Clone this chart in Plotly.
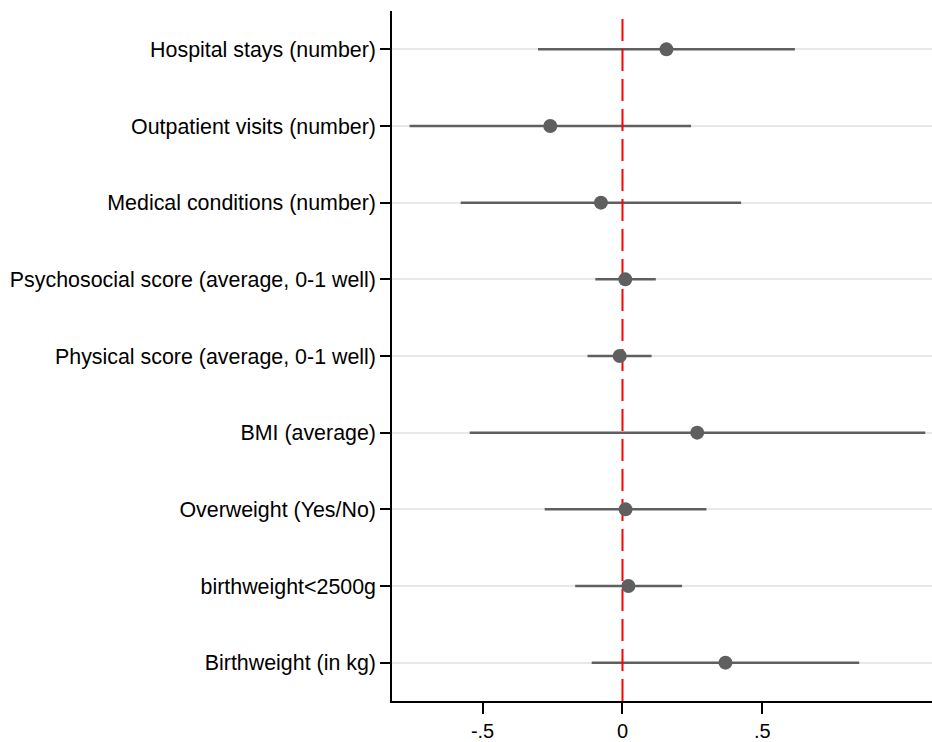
import plotly.graph_objects as go

# Outcomes, listed top to bottom as they appear on the plot
outcomes = [
    "Hospital stays (number)",
    "Outpatient visits (number)",
    "Medical conditions (number)",
    "Psychosocial score (average, 0-1 well)",
    "Physical score (average, 0-1 well)",
    "BMI (average)",
    "Overweight (Yes/No)",
    "birthweight<2500g",
    "Birthweight (in kg)",
]
estimates = [0.157, -0.258, -0.077, 0.010, -0.010, 0.267, 0.011, 0.021, 0.368]
ci_lower = [-0.302, -0.761, -0.578, -0.097, -0.125, -0.546, -0.278, -0.169, -0.110]
ci_upper = [0.616, 0.245, 0.424, 0.119, 0.104, 1.082, 0.300, 0.213, 0.846]

reference_value = 0
x_tick_values = [-0.5, 0, 0.5]
x_tick_labels = ["-.5", "0", ".5"]

FONT = "Liberation Sans, Arial, Helvetica, sans-serif"
MARK_GREY = "#5f5f5f"

# Row positions: first outcome at the top
n = len(outcomes)
rows = [n - i for i in range(n)]

# Build segmented line data for the confidence intervals
ci_x, ci_y = [], []
for row, lo, hi in zip(rows, ci_lower, ci_upper):
    ci_x += [lo, hi, None]
    ci_y += [row, row, None]

fig = go.Figure()

fig.add_trace(go.Scatter(
    x=ci_x, y=ci_y, mode="lines",
    line=dict(color=MARK_GREY, width=2.5),
    hoverinfo="skip", showlegend=False,
))

# Vertical reference line at zero, spanning the full row range
fig.add_trace(go.Scatter(
    x=[reference_value, reference_value], y=[0.5, n + 0.5],
    mode="lines",
    line=dict(color="#ff0000", width=2, dash="22px,8px"),
    hoverinfo="skip", showlegend=False,
))

fig.add_trace(go.Scatter(
    x=estimates, y=rows, mode="markers",
    marker=dict(color=MARK_GREY, size=14, line=dict(width=0)),
    text=outcomes, hoverinfo="x+text",
    showlegend=False,
))

fig.update_layout(
    width=932, height=742,
    margin=dict(l=392, r=0, t=11, b=39),
    paper_bgcolor="white", plot_bgcolor="white",
    font=dict(family=FONT, size=20, color="black"),
    showlegend=False,
)

fig.update_xaxes(
    range=[-0.8236, 1.106],
    tickvals=x_tick_values, ticktext=x_tick_labels,
    showgrid=False, zeroline=False,
    showline=True, linecolor="black", linewidth=1.5,
    ticks="outside", ticklen=11, tickwidth=1.5, tickcolor="black",
    tickfont=dict(family=FONT, size=20, color="black"),
)

fig.update_yaxes(
    range=[0.5, n + 0.5],
    tickvals=rows, ticktext=outcomes,
    showgrid=True, gridcolor="#e8e8e8", gridwidth=2,
    zeroline=False,
    showline=True, linecolor="black", linewidth=1.5,
    ticks="outside", ticklen=10, tickwidth=1.5, tickcolor="black",
    tickfont=dict(family=FONT, size=21.4, color="black"),
    ticklabelstandoff=0,
)

fig.write_html("out.html")
